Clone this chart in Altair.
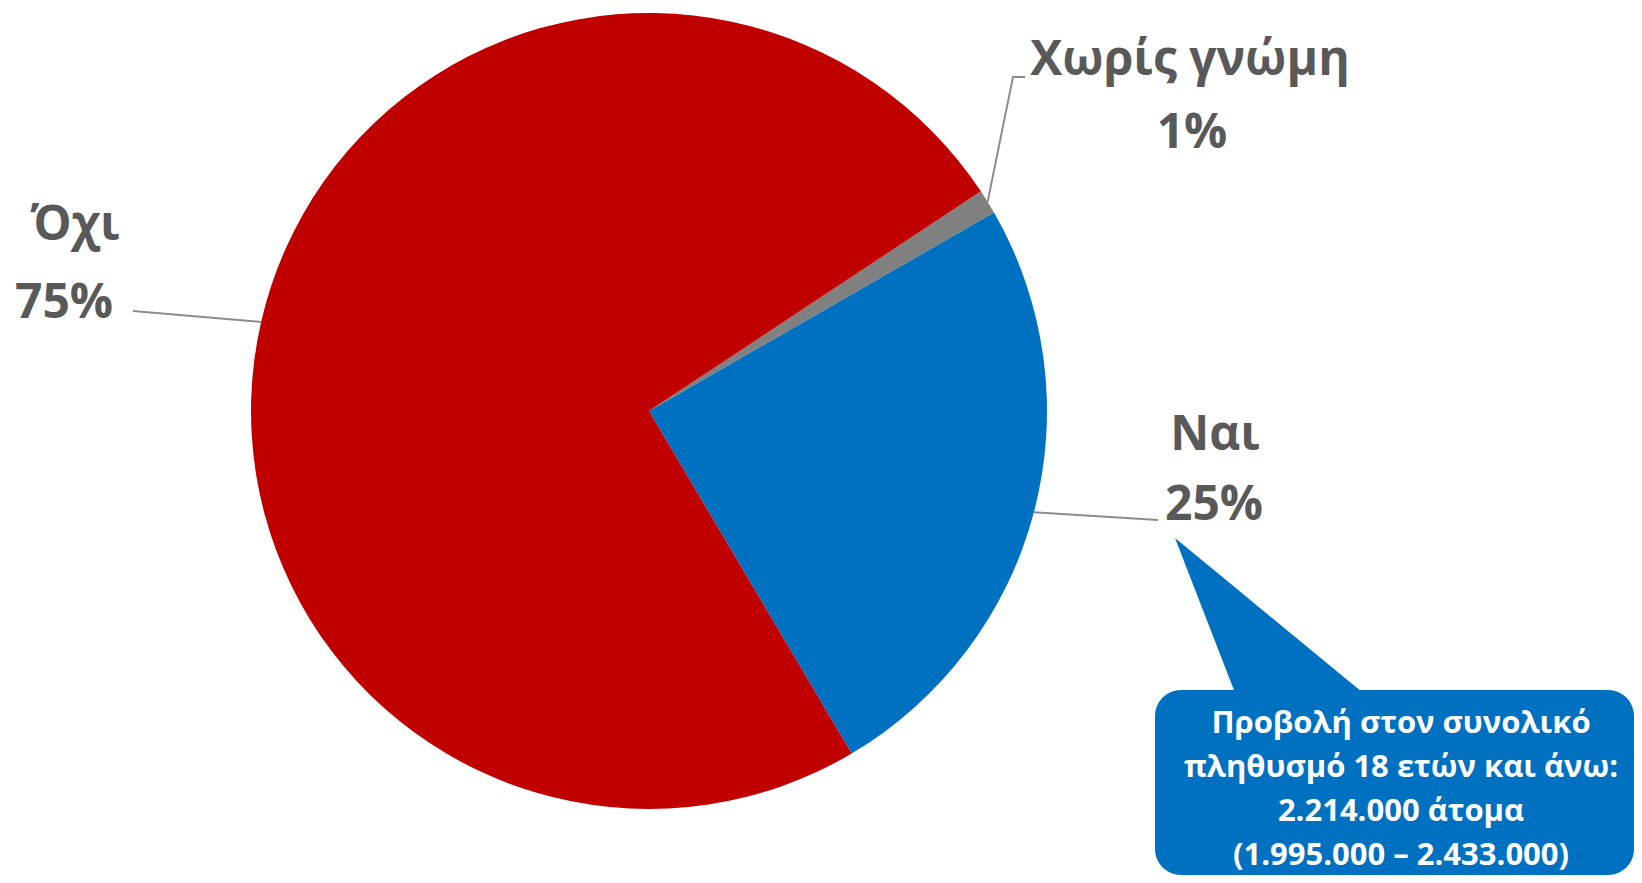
import math
import altair as alt
import pandas as pd

# ---- data ----
categories = ["Χωρίς γνώμη", "Ναι", "Όχι"]
values = [1.0, 24.8, 74.2]
pct_labels = ["1%", "25%", "75%"]
colors = ["#808080", "#0070C0", "#C00000"]
callout_lines = [
    "Προβολή στον συνολικό",
    "πληθυσμό 18 ετών και άνω:",
    "2.214.000 άτομα",
    "(1.995.000 – 2.433.000)",
]

# ---- layout (page pixel coordinates) ----
W, H = 1626, 867
OX, OY = 8, 8
CX, CY, R = 649, 411, 398
START_DEG = 56.5
label_pos = {  # name position (x, baseline), pct position (x, baseline)
    "Χωρίς γνώμη": ((1190, 75), (1192, 148)),
    "Ναι": ((1215, 450), (1214, 520)),
    "Όχι": ((75, 240), (64, 318)),
}
leader_ends = {
    "Χωρίς γνώμη": [(1013, 77), (1025, 77)],
    "Ναι": [(1158, 520)],
    "Όχι": [(133, 311)],
}
callout_x = 1401
callout_y0, callout_dy = 733, 44
box = dict(x=1155, x2=OX + W, y=690, y2=OY + H)
tip = (1175, 538)
base_l, base_r = (1237, 692), (1362, 692)

# ---- derived tables ----
pie_df = pd.DataFrame({"cat": categories, "value": values, "order": list(range(len(categories)))})

total = sum(values)
leader_rows = []
cum = 0.0
for c, v in zip(categories, values):
    mid = START_DEG + (cum + v / 2) / total * 360
    cum += v
    a = math.radians(mid)
    sx, sy = CX + R * math.sin(a), CY - R * math.cos(a)
    pts = [(sx, sy)] + leader_ends[c]
    for i, (px, py) in enumerate(pts):
        leader_rows.append({"cat": c, "seq": i, "x": px, "y": py})
leader_df = pd.DataFrame(leader_rows)

text_rows = []
for c, p in zip(categories, pct_labels):
    (nx, ny), (qx, qy) = label_pos[c]
    text_rows.append({"t": c, "x": nx, "y": ny})
    text_rows.append({"t": p, "x": qx, "y": qy})
text_df = pd.DataFrame(text_rows)

call_df = pd.DataFrame({
    "t": callout_lines,
    "x": [callout_x] * len(callout_lines),
    "y": [callout_y0 + i * callout_dy for i in range(len(callout_lines))],
})

# triangle pointer as area
slope = (base_r[1] - tip[1]) / (base_r[0] - tip[0])
tri_df = pd.DataFrame({
    "x": [tip[0], base_l[0], base_r[0]],
    "y": [tip[1], tip[1] + slope * (base_l[0] - tip[0]), base_r[1]],
    "y2": [tip[1], base_l[1] + 6, base_r[1] + 6],
})
box_df = pd.DataFrame([box])

xs = alt.Scale(domain=[OX, OX + W], range=[0, W])
ys = alt.Scale(domain=[OY, OY + H], reverse=True)

a0 = math.radians(START_DEG)
pie = alt.Chart(pie_df).mark_arc(outerRadius=R, stroke=None).encode(
    theta=alt.Theta("value:Q", stack=True, scale=alt.Scale(range=[a0, a0 + 2 * math.pi])),
    color=alt.Color("cat:N", scale=alt.Scale(domain=categories, range=colors), legend=None),
    order=alt.Order("order:Q"),
    x=alt.value(CX - OX),
    y=alt.value(CY - OY),
)

leaders = alt.Chart(leader_df).mark_line(color="#8C8C8C", strokeWidth=2).encode(
    x=alt.X("x:Q", scale=xs, axis=None),
    y=alt.Y("y:Q", scale=ys, axis=None),
    detail="cat:N",
    order="seq:Q",
)

labels = alt.Chart(text_df).mark_text(
    font="Open Sans", fontWeight="bold", fontSize=48, color="#595959",
    align="center", baseline="alphabetic",
).encode(
    x=alt.X("x:Q", scale=xs, axis=None),
    y=alt.Y("y:Q", scale=ys, axis=None),
    text="t:N",
)

pointer = alt.Chart(tri_df).mark_area(color="#0070C0", clip=True).encode(
    x=alt.X("x:Q", scale=xs, axis=None),
    y=alt.Y("y:Q", scale=ys, axis=None),
    y2="y2:Q",
)

rect = alt.Chart(box_df).mark_rect(color="#0070C0", cornerRadius=26, clip=True).encode(
    x=alt.X("x:Q", scale=xs, axis=None),
    x2="x2:Q",
    y=alt.Y("y:Q", scale=ys, axis=None),
    y2="y2:Q",
)

call_text = alt.Chart(call_df).mark_text(
    font="Open Sans", fontWeight="bold", fontSize=31, color="white",
    align="center", baseline="alphabetic",
).encode(
    x=alt.X("x:Q", scale=xs, axis=None),
    y=alt.Y("y:Q", scale=ys, axis=None),
    text="t:N",
)

chart = alt.layer(pie, leaders, labels, pointer, rect, call_text).properties(
    width=W, height=H, padding=0, autosize=alt.AutoSizeParams(type="none"),
).configure_view(strokeWidth=0)

chart.save("out.html", embed_options={"renderer": "svg", "actions": False})
